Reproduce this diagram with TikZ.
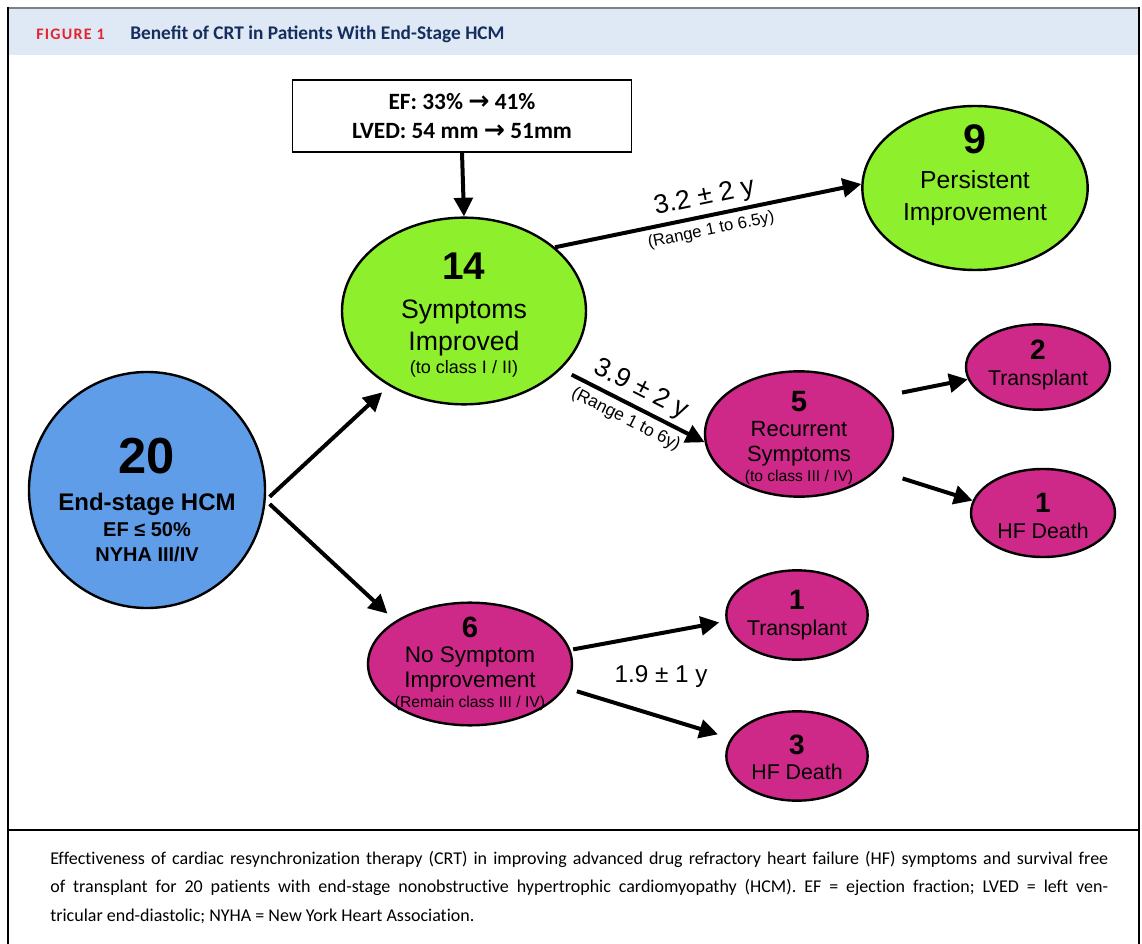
\documentclass[tikz,border=0pt]{standalone}
\usepackage{fontspec}
\setmainfont{Liberation Sans}
\newfontfamily\calib{Carlito}
\newfontfamily\captionfont[Ligatures={NoCommon}]{Carlito}
\newfontfamily\dejavu{DejaVu Sans}
\usepackage{xcolor}
\usepackage{tikz}
\usetikzlibrary{shapes.geometric, arrows.meta}
\definecolor{hcmblue}{RGB}{96,157,232}
\definecolor{okgreen}{RGB}{142,240,44}
\definecolor{badpink}{RGB}{206,40,136}
\definecolor{headband}{RGB}{222,233,245}
\definecolor{figred}{RGB}{228,36,48}
\definecolor{navy}{RGB}{22,46,94}
\tikzstyle{arrow} = [line width=3pt,-{Triangle[length=14pt,width=14pt]}]
\tikzstyle{bubble} = [ellipse,draw=black,line width=1.8pt,inner sep=0pt]
\tikzstyle{stage} = [bubble,fill=hcmblue]
\tikzstyle{better} = [bubble,fill=okgreen]
\tikzstyle{worse} = [bubble,fill=badpink]
\tikzstyle{inside} = [align=center,inner sep=0pt]
\tikzstyle{echobox} = [draw=black,line width=1pt,fill=white,align=center,minimum width=254pt,minimum height=54pt]
\tikzstyle{timing} = [font=\fontsize{20}{22}\selectfont,inner sep=3pt]
\tikzstyle{spanlabel} = [font=\fontsize{12.5}{14}\selectfont,inner sep=4pt]
\newcommand{\fatarrow}{{\dejavu\bfseries\fontsize{19}{19}\selectfont →}}

\begin{document}
\begin{tikzpicture}[x=0.75pt,y=-0.75pt]
	% Frame and header:
	\useasboundingbox (0,0) rectangle (1142,944);
	\fill[headband] (9,9) rectangle (1138,55);
	\draw[gray,line width=1.4pt] (8,8) -- (1139,8);
	\draw[line width=2.2pt] (8,7) -- (8,944);
	\draw[line width=2.2pt] (1139,7) -- (1139,944);
	\draw[line width=1.8pt] (8,830) -- (1139,830);
	
	\node [anchor=base west,inner sep=0pt,text=figred] (fignum) at (36,40)
	{\calib\bfseries\fontsize{12}{14}\selectfont\addfontfeature{LetterSpace=8}FIGURE 1};
	\node [anchor=base west,inner sep=0pt,text=navy] (figtitle) at (130,40)
	{\calib\bfseries\fontsize{14.5}{16}\selectfont Benefit of CRT in Patients With End-Stage HCM};
	
	% Nodes:
	\node [echobox,font=\calib\bfseries\fontsize{17.5}{22}\selectfont] (echo) at (462,116)
	{EF: 33\% \fatarrow{} 41\%\\
	 LVED: 54 mm \fatarrow{} 51mm};
	
	\node [stage,minimum width=177pt,minimum height=177pt] (hcm) at (147,490) {};
	\node [inside,font=\fontsize{15}{19}\selectfont\bfseries] (hcm-txt) at (147,500)
	{{\fontsize{38}{40}\selectfont 20}\\[9pt]
	 {\fontsize{18}{20}\selectfont End-stage HCM}\\
	 EF ≤ 50\%\\
	 NYHA III/IV};
	
	\node [better,minimum width=183pt,minimum height=140pt] (improved) at (464,311) {};
	\node [inside,font=\fontsize{20}{24}\selectfont] (improved-txt) at (464,315)
	{{\fontsize{29}{30}\selectfont\bfseries 14}\\[5pt]
	 Symptoms\\
	 Improved\\[-7pt]
	 {\fontsize{13.5}{15}\selectfont (to class I / II)}};
	
	\node [better,minimum width=169pt,minimum height=123pt] (persist) at (975,188) {};
	\node [inside,font=\fontsize{18.5}{24}\selectfont] (persist-txt) at (975,175)
	{{\fontsize{31}{32}\selectfont\bfseries 9}\\[2pt]
	 Persistent\\
	 Improvement};
	
	\node [worse,minimum width=141pt,minimum height=94pt] (recur) at (799,434) {};
	\node [inside,font=\fontsize{16.5}{19}\selectfont] (recur-txt) at (799,438)
	{{\fontsize{22}{24}\selectfont\bfseries 5}\\
	 Recurrent\\
	 Symptoms\\[-4pt]
	 {\fontsize{11.7}{13}\selectfont (to class III / IV)}};
	
	\node [worse,minimum width=108pt,minimum height=64pt] (trans2) at (1038,367) {};
	\node [inside,font=\fontsize{16}{19}\selectfont] (trans2-txt) at (1038,365)
	{{\fontsize{21}{22}\selectfont\bfseries 2}\\ Transplant};
	
	\node [worse,minimum width=108pt,minimum height=66pt] (hfd1) at (1043,513) {};
	\node [inside,font=\fontsize{16}{19}\selectfont] (hfd1-txt) at (1043,516)
	{{\fontsize{21}{22}\selectfont\bfseries 1}\\ HF Death};
	
	\node [worse,minimum width=153pt,minimum height=92pt] (norelief) at (470,664) {};
	\node [inside,font=\fontsize{16.9}{19}\selectfont] (norelief-txt) at (470,664)
	{{\fontsize{22}{24}\selectfont\bfseries 6}\\
	 No Symptom\\
	 Improvement\\[-4pt]
	 {\fontsize{11.8}{13}\selectfont (Remain class III / IV)}};
	
	\node [worse,minimum width=106pt,minimum height=67pt] (trans1) at (797,615) {};
	\node [inside,font=\fontsize{16}{19}\selectfont] (trans1-txt) at (797,615)
	{{\fontsize{21}{22}\selectfont\bfseries 1}\\ Transplant};
	
	\node [worse,minimum width=106pt,minimum height=67pt] (hfd3) at (797,756) {};
	\node [inside,font=\fontsize{16}{19}\selectfont] (hfd3-txt) at (797,757)
	{{\fontsize{21}{22}\selectfont\bfseries 3}\\ HF Death};
	
	% Arrows:
	\draw[arrow] (echo.south) -- (improved.north);
	\draw[arrow,shorten <=4pt,shorten >=7pt] (hcm.-5) -- (improved.225);
	\draw[arrow,shorten <=4pt,shorten >=8pt] (hcm.-5) -- (norelief.150);
	\draw[arrow] (improved.35) -- (persist.178)
		node [timing,midway,above,sloped] {3.2 ± 2 y}
		node [spanlabel,midway,below,sloped] {(Range 1 to 6.5y)};
	\draw[arrow,shorten <=9pt] (improved.-31) -- (recur.185)
		node [timing,midway,above,sloped] {3.9 ± 2 y}
		node [spanlabel,font=\fontsize{13}{14}\selectfont,midway,below,sloped] {(Range 1 to 6y)};
	\draw[arrow,shorten <=19pt] (recur.25) -- (trans2.190);
	\draw[arrow,shorten <=20pt] (recur.-25) -- (hfd1.170);
	\draw[arrow,shorten <=2pt,shorten >=5pt] (norelief.8) -- (trans1.185);
	\draw[arrow,shorten <=9pt,shorten >=10pt] (norelief.-14) -- (hfd3.165);
	
	\node [font=\fontsize{18.2}{20}\selectfont] (followup) at (661,677) {1.9 ± 1 y};
	
	% Caption:
	\node [anchor=north west,inner sep=0pt,text width=793.5pt,align=justify,
		font=\captionfont\fontsize{13.5}{21.4}\selectfont\frenchspacing] (caption) at (50,851)
	{Effectiveness of cardiac resynchronization therapy (CRT) in improving advanced drug refractory heart failure (HF) symptoms and survival free\linebreak
	of transplant for 20 patients with end-stage nonobstructive hypertrophic cardiomyopathy (HCM). EF = ejection fraction; LVED = left ven-\linebreak
	tricular end-diastolic; NYHA = New York Heart Association.};
\end{tikzpicture}
\end{document}
